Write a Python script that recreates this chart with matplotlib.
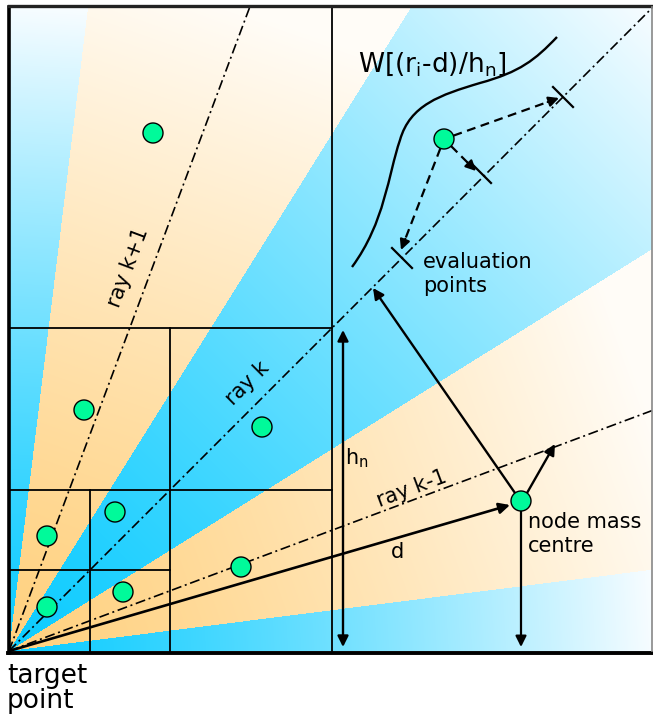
import numpy as np
import matplotlib
matplotlib.use('Agg')
import matplotlib.pyplot as plt
from matplotlib.patches import Circle, PathPatch
from matplotlib.path import Path

# Canvas (pixel units, y grows downward)
W_PX, H_PX = 653, 716
BOX_LEFT, BOX_RIGHT, BOX_TOP, BOX_BOTTOM = 9, 652, 7, 651
ORIGIN = (BOX_LEFT, BOX_BOTTOM)

# Angular sectors (degrees from the x axis) and their colours
sector_edges = [0, 7.2, 32, 58, 83, 90]
sector_kind = ['blue', 'orange', 'blue', 'orange', 'blue']
base_colours = {'blue': (0.05, 0.80, 1.0), 'orange': (1.0, 0.82, 0.50)}
far_colours = {'blue': (0.97, 0.99, 1.0), 'orange': (1.0, 0.99, 0.97)}

# Rays
ray_angles = [20.5, 45.0, 69.5]
ray_labels = ['ray k-1', 'ray k', 'ray k+1']
ray_label_pos = [(412, 489), (247, 383), (128, 268)]

# Quadtree cell lines: (x0, y0, x1, y1)
tree_lines = [
    (332, 7, 332, 651),
    (9, 328, 332, 328),
    (170, 328, 170, 651),
    (9, 490, 332, 490),
    (90, 490, 90, 651),
    (9, 570, 170, 570),
]

# Particles
part_x = [153, 84, 262, 47, 115, 47, 123, 241, 444]
part_y = [133, 410, 427, 536, 512, 607, 592, 567, 139]
node_x, node_y = 521, 501
radius = 10

# Evaluation points on ray k (ticks) and dashed arrow tips
eval_x = [563, 481, 402]
eval_y = [97, 173, 258]
tip_x = [559, 476, 401]
tip_y = [98, 171, 250]

# Kernel curve W (bezier control points)
curve_pts = [(352, 267), (385, 222), (388, 175), (400, 140),
             (410, 105), (440, 95), (480, 83),
             (520, 72), (535, 60), (557, 37)]


def ray_end(angle):
    a = np.radians(angle)
    c, s = np.cos(a), np.sin(a)
    size = BOX_RIGHT - BOX_LEFT
    r = size / max(c, s)
    return ORIGIN[0] + r * c, ORIGIN[1] - r * s


def background():
    xs = np.arange(BOX_LEFT, BOX_RIGHT) + 0.5
    ys = np.arange(BOX_TOP, BOX_BOTTOM) + 0.5
    X, Y = np.meshgrid(xs, ys)
    dx = X - ORIGIN[0]
    dy = ORIGIN[1] - Y
    ang = np.degrees(np.arctan2(dy, dx))
    idx = np.clip(np.digitize(ang, sector_edges) - 1, 0, len(sector_kind) - 1)
    img = np.ones(X.shape + (3,))
    size = BOX_RIGHT - BOX_LEFT
    for i, kind in enumerate(sector_kind):
        phi = np.radians(0.5 * (sector_edges[i] + sector_edges[i + 1]))
        R = size / max(np.cos(phi), np.sin(phi))
        t = np.clip((dx * np.cos(phi) + dy * np.sin(phi)) / R, 0, 1) ** 1.25
        b = np.array(base_colours[kind])
        f = np.array(far_colours[kind])
        col = b[None, None, :] + (f - b)[None, None, :] * t[..., None]
        m = idx == i
        img[m] = col[m]
    return img


def arrow(ax, start, end, lw=1.5, style='-|>', scale=16):
    ax.annotate('', xy=end, xytext=start,
                arrowprops=dict(arrowstyle=style, lw=lw, color='black',
                                mutation_scale=scale, shrinkA=0, shrinkB=0),
                zorder=4)


def main():
    fig = plt.figure(figsize=(W_PX / 100, H_PX / 100), dpi=100)
    ax = fig.add_axes([0, 0, 1, 1])
    ax.set_xlim(0, W_PX)
    ax.set_ylim(H_PX, 0)
    ax.axis('off')

    ax.imshow(background(), extent=(BOX_LEFT, BOX_RIGHT, BOX_BOTTOM, BOX_TOP),
              origin='upper', interpolation='bilinear', zorder=0)

    # quadtree
    for x0, y0, x1, y1 in tree_lines:
        ax.plot([x0, x1], [y0, y1], color='black', lw=1.3, zorder=2)

    # rays and labels
    for ang, lab, pos in zip(ray_angles, ray_labels, ray_label_pos):
        ex, ey = ray_end(ang)
        ax.plot([ORIGIN[0], ex], [ORIGIN[1], ey], color='black', lw=1.2,
                linestyle=(0, (6, 2.2, 1.2, 2.2)), zorder=2)
        ax.text(pos[0], pos[1], lab, rotation=ang, rotation_mode='anchor',
                ha='center', va='center', fontsize=15, zorder=3)

    # box border
    ax.plot([BOX_LEFT, BOX_LEFT], [BOX_TOP, BOX_BOTTOM + 2], color='black', lw=2.6, zorder=5)
    ax.plot([BOX_LEFT - 1, BOX_RIGHT], [BOX_BOTTOM + 1.5, BOX_BOTTOM + 1.5], color='black', lw=2.8, zorder=5)
    ax.plot([BOX_LEFT, BOX_RIGHT], [BOX_TOP - 1, BOX_TOP - 1], color='#222222', lw=2.4, zorder=5)
    ax.plot([BOX_RIGHT, BOX_RIGHT], [BOX_TOP, BOX_BOTTOM], color='#888888', lw=1.2, zorder=5)

    # h_n double arrow
    arrow(ax, (343, 647), (343, 330), style='<|-|>', lw=1.7)
    ax.text(345, 464, r'h$_\mathregular{n}$', fontsize=15, ha='left', va='baseline')

    # d arrow
    arrow(ax, ORIGIN, (510, 505), lw=1.9)
    ax.text(397, 552, 'd', fontsize=15, ha='center', va='center')

    # node arrows
    arrow(ax, (node_x, node_y + radius), (node_x, 647), lw=1.6)
    arrow(ax, (node_x + 6, node_y - 8), (555, 444), lw=1.7)
    arrow(ax, (node_x - 6, node_y - 8), (373, 288), lw=1.7)

    # ticks and dashed arrows
    px, py = part_x[-1], part_y[-1]
    for ex, ey, tx, ty in zip(eval_x, eval_y, tip_x, tip_y):
        ax.plot([ex - 10, ex + 10], [ey - 10, ey + 10], color='black', lw=1.6, zorder=3)
        v = np.array([tx - px, ty - py], float)
        L = np.hypot(*v)
        u = v / L
        s = (px + u[0] * radius, py + u[1] * radius)
        hb = (tx - u[0] * 12, ty - u[1] * 12)
        ax.plot([s[0], hb[0]], [s[1], hb[1]], color='black', lw=1.6,
                linestyle=(0, (4, 2.5)), zorder=3)
        arrow(ax, hb, (tx, ty), lw=1.6, scale=15)

    # kernel curve
    codes = [Path.MOVETO] + [Path.CURVE4] * (len(curve_pts) - 1)
    ax.add_patch(PathPatch(Path(curve_pts, codes), facecolor='none',
                           edgecolor='black', lw=1.7, zorder=3))
    ax.text(358, 71, r'W[(r$_\mathregular{i}$-d)/h$_\mathregular{n}$]',
            fontsize=19, ha='left', va='baseline')

    # particles
    for x, y in zip(part_x + [node_x], part_y + [node_y]):
        ax.add_patch(Circle((x, y), radius, facecolor='#00fa9a',
                            edgecolor='black', lw=1.0, zorder=6))

    ax.text(528, 512, 'node mass\ncentre', fontsize=15, ha='left', va='top',
            linespacing=1.25)
    ax.text(423, 252, 'evaluation\npoints', fontsize=15, ha='left', va='top',
            linespacing=1.25)
    ax.text(7, 683, 'target', fontsize=19, ha='left', va='baseline')
    ax.text(7, 708, 'point', fontsize=19, ha='left', va='baseline')

    fig.savefig('out.png', dpi=100, facecolor='white')


if __name__ == '__main__':
    main()
